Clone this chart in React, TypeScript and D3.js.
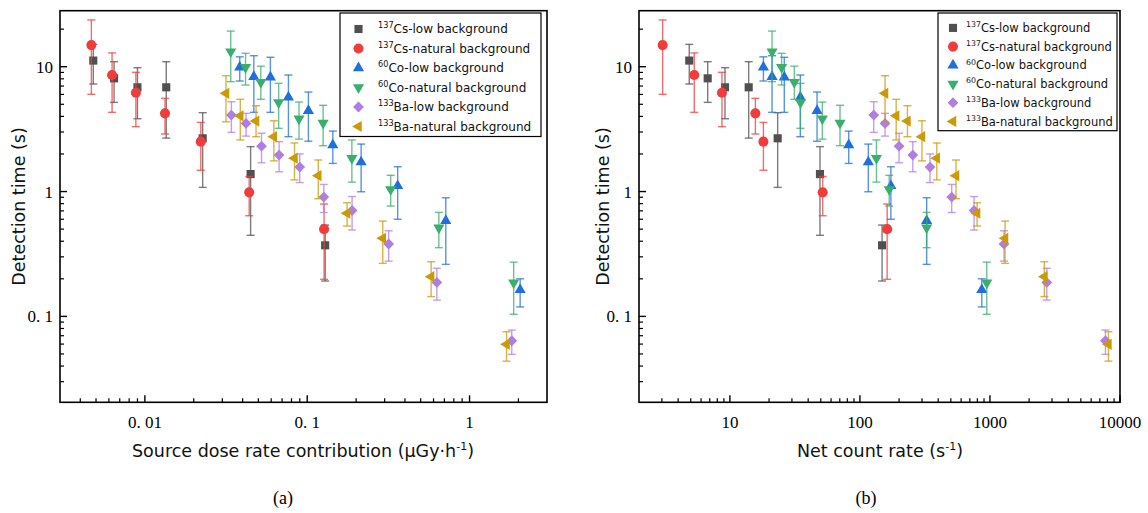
import React from 'react';
import * as d3 from 'd3';

// ---------------- data ----------------
const seriesNames = ['Cs-low', 'Cs-nat', 'Co-low', 'Co-nat', 'Ba-low', 'Ba-nat'];
const legendIso = ['137', '137', '60', '60', '133', '133'];
const legendText = ['Cs-low background', 'Cs-natural background', 'Co-low background', 'Co-natural background', 'Ba-low background', 'Ba-natural background'];
const seriesColors = ['#505050', '#f03c3c', '#1f6fdc', '#3aae6c', '#b07de0', '#cc9a06'];
const seriesShapes = ['square', 'circle', 'up', 'down', 'diamond', 'left'];

// dose rate (µGy/h)
const csLowDose = [0.00481, 0.00646, 0.009, 0.01354, 0.0227, 0.0448, 0.129];
const csNatDose = [0.00468, 0.00628, 0.0088, 0.0133, 0.0221, 0.0439, 0.127];
const coLowDose = [0.0384, 0.0469, 0.0593, 0.0766, 0.1017, 0.1438, 0.2148, 0.3608, 0.714, 2.05];
const coNatDose = [0.0338, 0.0417, 0.0518, 0.0667, 0.089, 0.1253, 0.1884, 0.3268, 0.647, 1.87];
const baLowDose = [0.0341, 0.042, 0.0523, 0.0671, 0.0899, 0.1265, 0.189, 0.3175, 0.629, 1.82];
const baNatDose = [0.0316, 0.0387, 0.0484, 0.0623, 0.0835, 0.117, 0.176, 0.292, 0.58, 1.69];

// net count rate (1/s)
const csLowCount = [4.87, 6.75, 9.17, 13.95, 23.3, 49.3, 148];
const csNatCount = [3.04, 5.32, 8.69, 15.7, 18.1, 51.7, 162];
const coLowCount = [18.1, 21.1, 26.2, 34.8, 46.8, 82.0, 116, 173, 326, 865];
const coNatCount = [21.1, 25.0, 31.3, 34.9, 51.4, 70.3, 134, 168, 326, 945];
const baLowCount = [127.7, 156, 200, 255, 346, 508, 755, 1283, 2734, 7730];
const baNatCount = [156, 190, 232, 300, 390, 548, 796, 1306, 2620, 8150];

// detection time (s) and error bounds
const csLowTime = [11.2, 8.07, 6.84, 6.84, 2.67, 1.38, 0.371];
const csLowLo = [7.27, 5.18, 3.83, 2.68, 1.08, 0.446, 0.192];
const csLowHi = [15.1, 10.97, 9.82, 10.97, 4.28, 2.29, 0.539];

const csNatTime = [14.9, 8.58, 6.19, 4.23, 2.51, 0.985, 0.5];
const csNatLo = [6.01, 4.31, 3.31, 2.89, 1.48, 0.64, 0.198];
const csNatHi = [23.7, 12.9, 9.02, 5.58, 3.58, 1.32, 0.794];

const coLowTime = [9.89, 8.32, 8.23, 5.69, 4.44, 2.36, 1.72, 1.11, 0.583, 0.163];
const coLowLo = [7.68, 4.31, 4.31, 2.75, 2.53, 1.68, 0.996, 0.6, 0.261, 0.119];
const coLowHi = [12.0, 12.25, 11.9, 8.58, 6.27, 3.05, 2.4, 1.58, 0.892, 0.2];

const coNatTime = [13.2, 9.89, 7.5, 5.17, 3.83, 3.54, 1.85, 1.04, 0.513, 0.186];
const coNatLo = [7.59, 7.13, 5.48, 3.21, 2.63, 2.33, 1.19, 0.765, 0.355, 0.104];
const coNatHi = [19.3, 12.8, 10.1, 7.36, 5.21, 4.91, 2.59, 1.35, 0.681, 0.272];

const baLowTime = [4.1, 3.51, 2.31, 1.96, 1.57, 0.904, 0.705, 0.38, 0.187, 0.0638];
const baLowLo = [2.98, 2.78, 1.7, 1.44, 1.18, 0.679, 0.492, 0.277, 0.135, 0.0496];
const baLowHi = [5.24, 4.23, 2.93, 2.51, 2.0, 1.14, 0.912, 0.485, 0.243, 0.0777];

const baNatTime = [6.12, 4.04, 3.67, 2.75, 1.85, 1.34, 0.67, 0.422, 0.208, 0.0597];
const baNatLo = [3.62, 2.59, 2.75, 1.76, 1.24, 0.876, 0.529, 0.266, 0.144, 0.0438];
const baNatHi = [8.47, 5.48, 4.87, 3.69, 2.45, 1.79, 0.813, 0.58, 0.274, 0.0753];

// ticks
const yTicks = [0.1, 1, 10];
const yTickLabels = ['0. 1', '1', '10'];
const doseTicks = [0.01, 0.1, 1];
const doseTickLabels = ['0. 01', '0. 1', '1'];
const countTicks = [10, 100, 1000, 10000];
const countTickLabels = ['10', '100', '1000', '10000'];

const allDose = [csLowDose, csNatDose, coLowDose, coNatDose, baLowDose, baNatDose];
const allCount = [csLowCount, csNatCount, coLowCount, coNatCount, baLowCount, baNatCount];
const allTime = [csLowTime, csNatTime, coLowTime, coNatTime, baLowTime, baNatTime];
const allLo = [csLowLo, csNatLo, coLowLo, coNatLo, baLowLo, baNatLo];
const allHi = [csLowHi, csNatHi, coLowHi, coNatHi, baLowHi, baNatHi];

// ---------------- drawing helpers ----------------
const W = 1148;
const H = 513;
const TOP = 10.7;
const BOTTOM = 402.3;

const yScale = d3.scaleLog().domain([0.0205, 28.1]).range([BOTTOM, TOP]);

function markerPath(shape: string): string {
  switch (shape) {
    case 'square':
      return d3.symbol().type(d3.symbolSquare).size(66)() as string;
    case 'circle':
      return d3.symbol().type(d3.symbolCircle).size(80)() as string;
    case 'diamond':
      return d3.symbol().type(d3.symbolSquare).size(58)() as string;
    default:
      return d3.symbol().type(d3.symbolTriangle).size(54)() as string;
  }
}
function markerRot(shape: string): number {
  if (shape === 'diamond') return 45;
  if (shape === 'down') return 180;
  if (shape === 'left') return -90;
  return 0;
}

function Marker({ shape, color, x, y }: { shape: string; color: string; x: number; y: number }) {
  return (
    <path
      d={markerPath(shape)}
      transform={`translate(${x},${y}) rotate(${markerRot(shape)})`}
      fill={color}
    />
  );
}

function minorTicks(domain: number[]): number[] {
  const out: number[] = [];
  const lo = Math.floor(Math.log10(domain[0]));
  const hi = Math.ceil(Math.log10(domain[1]));
  for (let e = lo; e <= hi; e++) {
    for (let m = 2; m <= 9; m++) {
      const v = m * Math.pow(10, e);
      if (v > domain[0] && v < domain[1]) out.push(v);
    }
  }
  return out;
}

type PanelProps = {
  x0: number;
  x1: number;
  xDomain: number[];
  xValues: number[][];
  xTicks: number[];
  xTickLabels: string[];
  legend: { left: number; right: number; top: number; bottom: number; mx: number; tx: number; y0: number; dy: number; fs: number };
};

function Panel({ x0, x1, xDomain, xValues, xTicks, xTickLabels, legend }: PanelProps) {
  const xScale = d3.scaleLog().domain(xDomain).range([x0, x1]);
  const xMinor = minorTicks(xDomain);
  const yMinor = minorTicks(yScale.domain());
  const cap = 4;
  return (
    <g>
      {/* error bars and markers */}
      {seriesNames.map((name, si) => (
        <g key={name}>
          {xValues[si].map((xv, i) => {
            const cx = xScale(xv);
            const yl = yScale(allLo[si][i]);
            const yh = yScale(allHi[si][i]);
            return (
              <g key={i} stroke={seriesColors[si]} strokeWidth={1.4} strokeOpacity={0.75}>
                <line x1={cx} x2={cx} y1={yl} y2={yh} />
                <line x1={cx - cap} x2={cx + cap} y1={yl} y2={yl} />
                <line x1={cx - cap} x2={cx + cap} y1={yh} y2={yh} />
              </g>
            );
          })}
          {xValues[si].map((xv, i) => (
            <Marker key={'m' + i} shape={seriesShapes[si]} color={seriesColors[si]} x={xScale(xv)} y={yScale(allTime[si][i])} />
          ))}
        </g>
      ))}
      {/* frame */}
      <rect x={x0} y={TOP} width={x1 - x0} height={BOTTOM - TOP} fill="none" stroke="#000" strokeWidth={1.6} />
      {/* x ticks */}
      {xMinor.map((v, i) => (
        <line key={'xm' + i} x1={xScale(v)} x2={xScale(v)} y1={BOTTOM} y2={BOTTOM - 4} stroke="#000" strokeWidth={1.2} />
      ))}
      {xTicks.map((v, i) => (
        <g key={'xt' + i}>
          <line x1={xScale(v)} x2={xScale(v)} y1={BOTTOM} y2={BOTTOM - 7} stroke="#000" strokeWidth={1.4} />
          <text x={xScale(v)} y={428} textAnchor="middle" fontFamily="'Liberation Serif', serif" fontSize={17}>
            {xTickLabels[i]}
          </text>
        </g>
      ))}
      {/* y ticks */}
      {yMinor.map((v, i) => (
        <line key={'ym' + i} x1={x0} x2={x0 + 4} y1={yScale(v)} y2={yScale(v)} stroke="#000" strokeWidth={1.2} />
      ))}
      {yTicks.map((v, i) => (
        <g key={'yt' + i}>
          <line x1={x0} x2={x0 + 7} y1={yScale(v)} y2={yScale(v)} stroke="#000" strokeWidth={1.4} />
          <text x={x0 - 7} y={yScale(v) + 6} textAnchor="end" fontFamily="'Liberation Serif', serif" fontSize={17}>
            {yTickLabels[i]}
          </text>
        </g>
      ))}
      {/* legend */}
      <rect x={legend.left} y={legend.top} width={legend.right - legend.left} height={legend.bottom - legend.top} fill="#fff" stroke="#000" strokeWidth={1.2} />
      {seriesNames.map((name, si) => {
        const yy = legend.y0 + si * legend.dy;
        return (
          <g key={'lg' + name}>
            <Marker shape={seriesShapes[si]} color={seriesColors[si]} x={legend.mx} y={yy} />
            <text x={legend.tx} y={yy + legend.fs * 0.36} fontFamily="'DejaVu Sans', sans-serif" fontSize={legend.fs} fill="#111">
              <tspan fontSize={legend.fs * 0.68} dy={-legend.fs * 0.42}>{legendIso[si]}</tspan>
              <tspan dy={legend.fs * 0.42}>{legendText[si]}</tspan>
            </text>
          </g>
        );
      })}
    </g>
  );
}

export default function App() {
  return (
    <svg width={W} height={H} style={{ position: 'absolute', left: 0, top: 0, background: '#fff' }}>
      <rect width={W} height={H} fill="#fff" />
      <Panel
        x0={60}
        x1={547}
        xDomain={[0.003, 3]}
        xValues={allDose}
        xTicks={doseTicks}
        xTickLabels={doseTickLabels}
        legend={{ left: 340, right: 541, top: 13, bottom: 136.5, mx: 358.5, tx: 378, y0: 29, dy: 19.5, fs: 12 }}
      />
      <Panel
        x0={639}
        x1={1120}
        xDomain={[2, 10000]}
        xValues={allCount}
        xTicks={countTicks}
        xTickLabels={countTickLabels}
        legend={{ left: 938, right: 1117, top: 13, bottom: 130.7, mx: 953, tx: 966, y0: 27.9, dy: 18.7, fs: 11.5 }}
      />
      {/* axis titles */}
      <text transform={`translate(25,206.5) rotate(-90)`} textAnchor="middle" fontFamily="'DejaVu Sans', sans-serif" fontSize={17.5} fill="#111">
        Detection time (s)
      </text>
      <text transform={`translate(609,206.5) rotate(-90)`} textAnchor="middle" fontFamily="'DejaVu Sans', sans-serif" fontSize={17.5} fill="#111">
        Detection time (s)
      </text>
      <text x={303} y={457} textAnchor="middle" fontFamily="'DejaVu Sans', sans-serif" fontSize={17.5} fill="#111">
        Source dose rate contribution (μGy·h<tspan fontSize={11} dy={-7}>-1</tspan><tspan dy={7}>)</tspan>
      </text>
      <text x={880} y={457} textAnchor="middle" fontFamily="'DejaVu Sans', sans-serif" fontSize={17.5} fill="#111">
        Net count rate (s<tspan fontSize={11} dy={-7}>-1</tspan><tspan dy={7}>)</tspan>
      </text>
      <text x={283} y={504} textAnchor="middle" fontFamily="'Liberation Serif', serif" fontSize={18}>(a)</text>
      <text x={866} y={504} textAnchor="middle" fontFamily="'Liberation Serif', serif" fontSize={18}>(b)</text>
    </svg>
  );
}
